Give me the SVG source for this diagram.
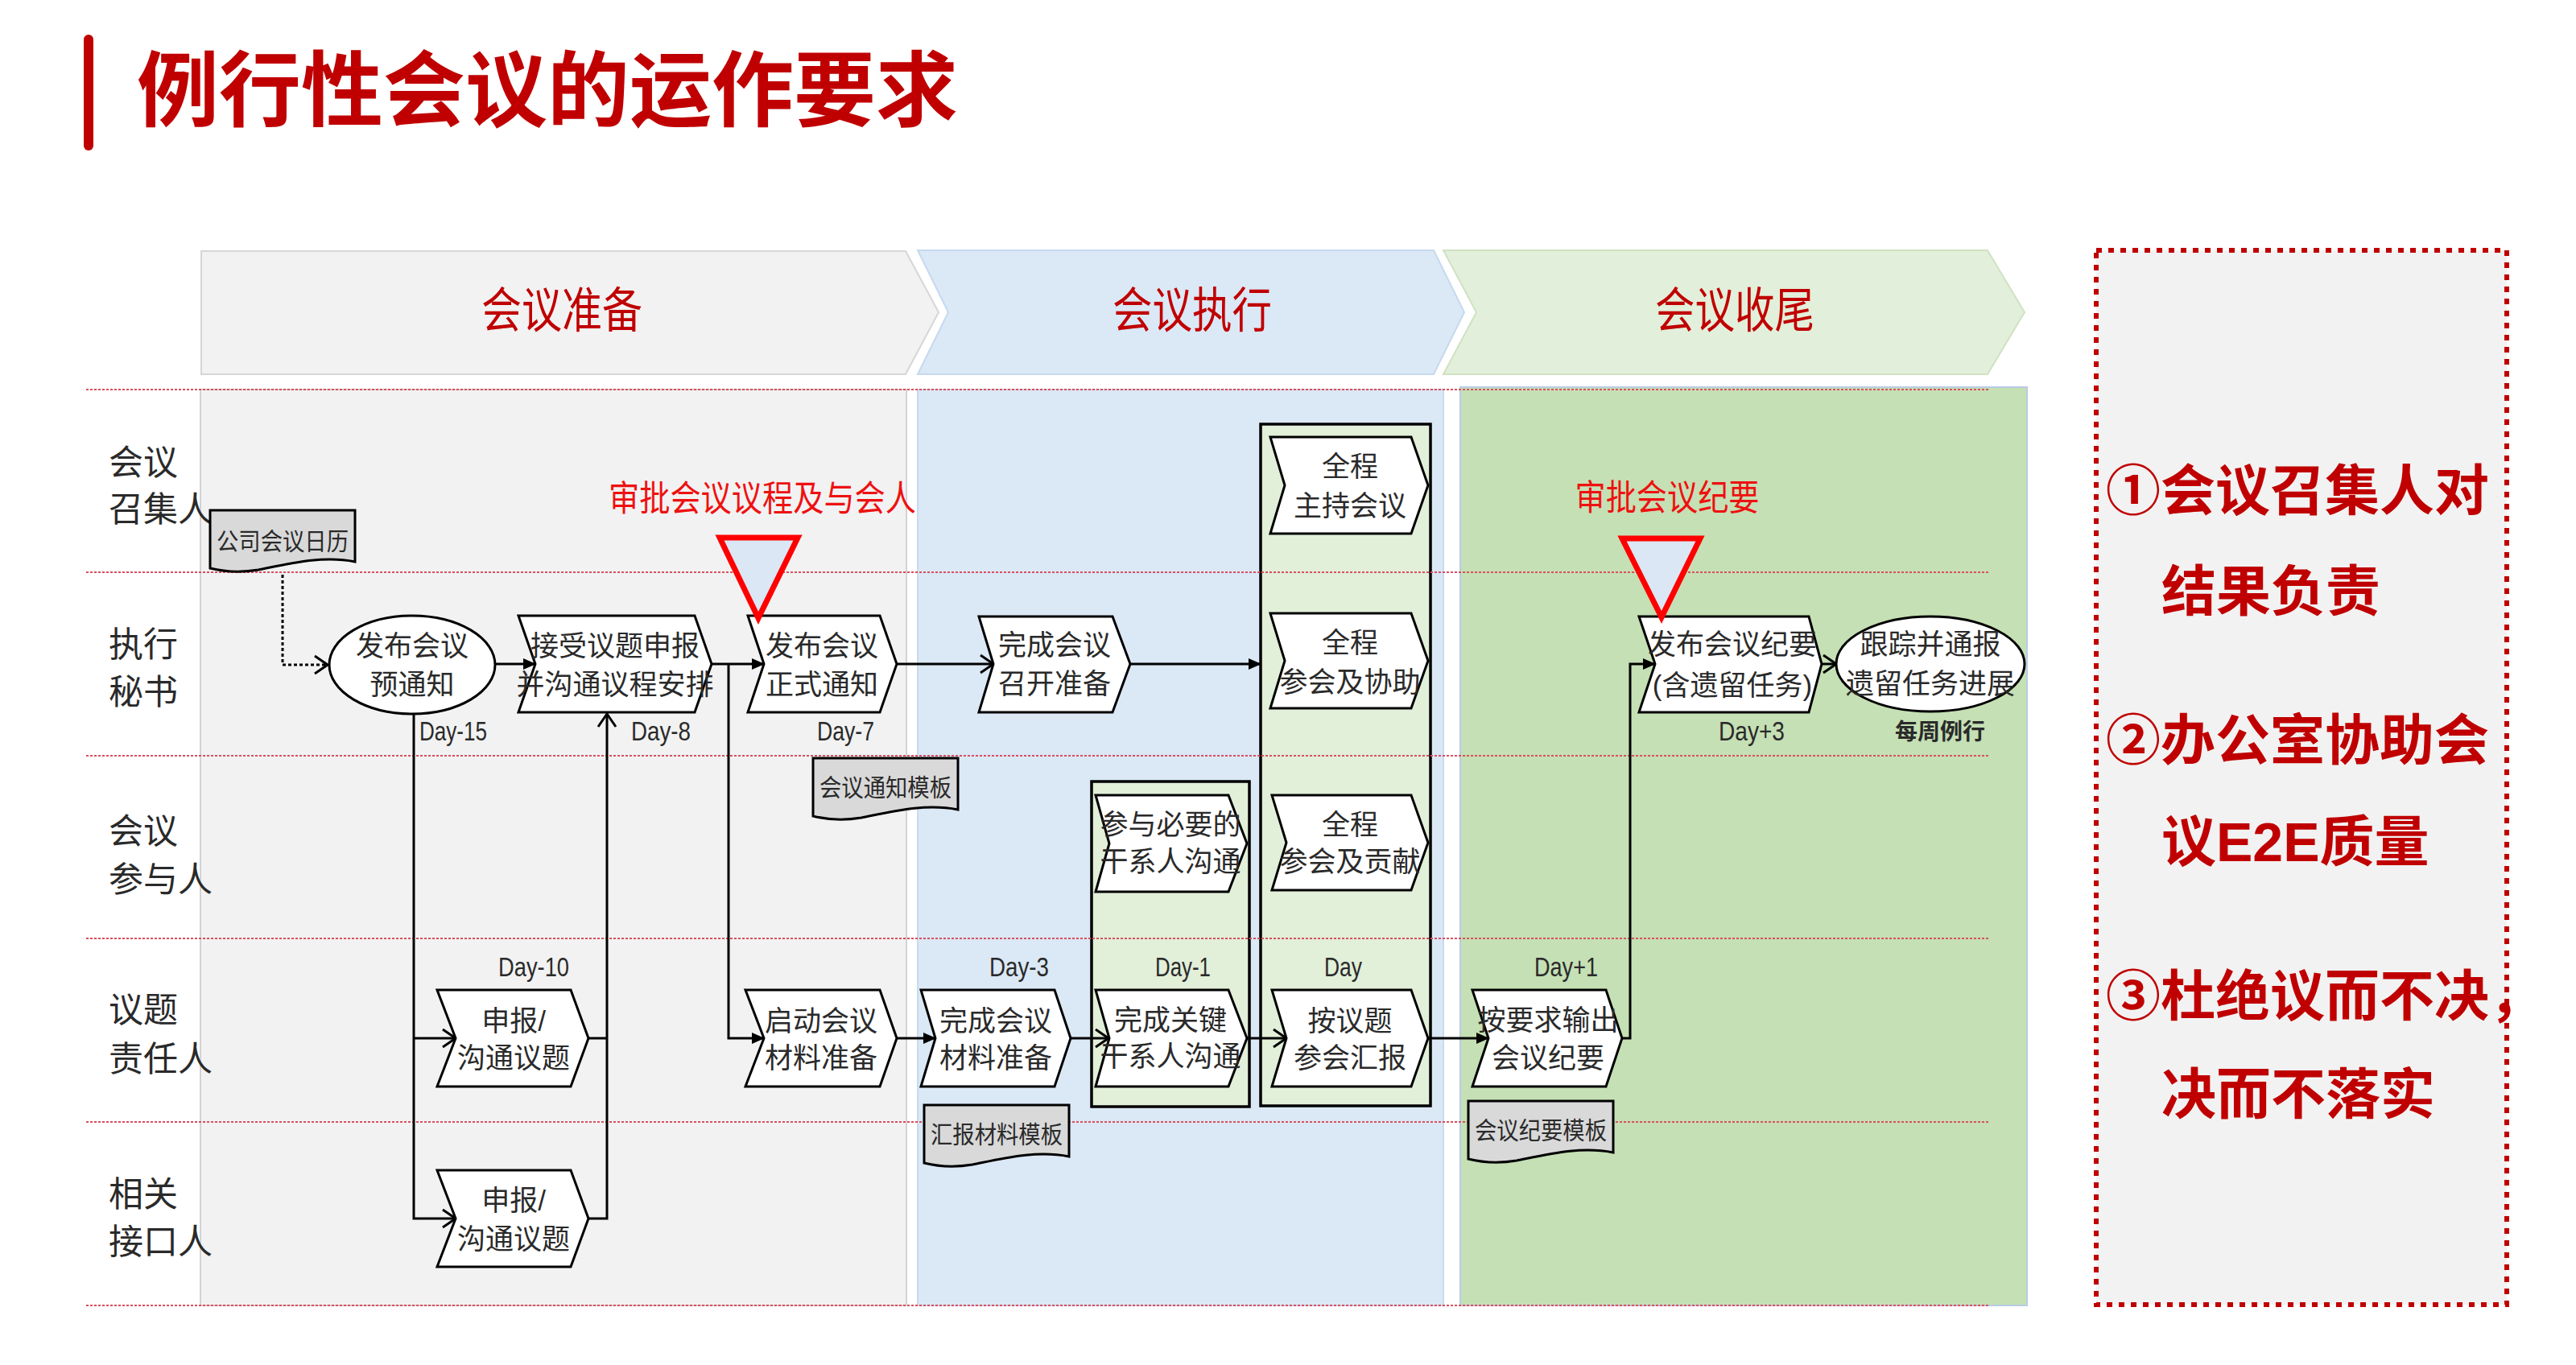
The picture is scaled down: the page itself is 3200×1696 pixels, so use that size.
<svg xmlns="http://www.w3.org/2000/svg" width="3200" height="1696" viewBox="0 0 3200 1696">
<style>
.cjk{font-family:"Liberation Sans","Noto Sans CJK SC",sans-serif}
.lane-line{stroke:#d9505f;stroke-width:2;stroke-dasharray:3 2;fill:none}
.node{fill:#fff;stroke:#000;stroke-width:3;stroke-linejoin:miter}
.doc{fill:#d9d9d9;stroke:#000;stroke-width:3}
.grp{fill:#e2efd9;stroke:#000;stroke-width:3.5}
.tri{fill:#dbe7f4;stroke:#ff0000;stroke-width:7;stroke-linejoin:miter}
.nt{font-family:"Liberation Sans","Noto Sans CJK SC",sans-serif;font-size:35px;fill:#2a2a2a;text-anchor:middle;dominant-baseline:central}
.dt{font-family:"Liberation Sans","Noto Sans CJK SC",sans-serif;font-size:30px;fill:#2a2a2a;text-anchor:middle;dominant-baseline:central}
.day{font-family:"Liberation Sans","Noto Sans CJK SC",sans-serif;font-size:34px;fill:#2a2a2a}
.lane{font-family:"Liberation Sans","Noto Sans CJK SC",sans-serif;font-size:43px;fill:#2a2a2a;dominant-baseline:central}
.ph{font-family:"Liberation Sans","Noto Sans CJK SC",sans-serif;font-size:60px;fill:#c00000;text-anchor:middle;dominant-baseline:central}
.red{font-family:"Liberation Sans","Noto Sans CJK SC",sans-serif;font-size:44px;fill:#ee1111;text-anchor:middle;dominant-baseline:central}
.big{font-family:"Liberation Sans","Noto Sans CJK SC",sans-serif;font-size:68px;font-weight:bold;fill:#c00000;dominant-baseline:central}
.conn{fill:none;stroke:#000;stroke-width:3}
</style>
<defs>
<marker id="af" viewBox="0 0 16 14" refX="15" refY="7" markerWidth="16" markerHeight="14" markerUnits="userSpaceOnUse" orient="auto"><path d="M0,0 L16,7 L0,14 Z" fill="#000"/></marker>
<marker id="ao" viewBox="0 0 20 26" refX="18" refY="13" markerWidth="20" markerHeight="26" markerUnits="userSpaceOnUse" orient="auto"><path d="M2,2 L18,13 L2,24" fill="none" stroke="#000" stroke-width="3"/></marker>
<path id="docshape" d="M0,0 H180 V64 C140,56 100,66 60,74 C36,78 16,76 0,72 Z"/>
</defs>

<rect width="3200" height="1696" fill="#ffffff"/>

<!-- title -->
<g id="title">
<rect x="104" y="43" width="12" height="144" rx="6" fill="#c00000"/>
<text x="170" y="114" class="cjk" font-size="102" font-weight="bold" fill="#c00000" dominant-baseline="central">例行性会议的运作要求</text>
</g>

<!-- phase headers -->
<g id="phase-prep">
<path d="M250,312 H1125 L1166,388 L1125,465 H250 Z" fill="#f2f2f2" stroke="#d6d6d6" stroke-width="2"/>
<text x="698" y="386" class="ph" textLength="200" lengthAdjust="spacingAndGlyphs">会议准备</text>
</g>
<g id="phase-exec">
<path d="M1140,311 H1781 L1819,388 L1781,465 H1140 L1178,388 Z" fill="#dbe8f5" stroke="#c6d9ee" stroke-width="2"/>
<text x="1481" y="386" class="ph" textLength="198" lengthAdjust="spacingAndGlyphs">会议执行</text>
</g>
<g id="phase-close">
<path d="M1793,311 H2469 L2515,388 L2469,465 H1793 L1834,388 Z" fill="#e2efda" stroke="#cfe2c2" stroke-width="2"/>
<text x="2155" y="386" class="ph" textLength="198" lengthAdjust="spacingAndGlyphs">会议收尾</text>
</g>

<!-- backgrounds -->
<g id="backgrounds">
<rect x="249" y="484" width="877" height="1138" fill="#f2f2f2" stroke="#d3d3d3" stroke-width="2"/>
<rect x="1140" y="484" width="653" height="1138" fill="#dbe8f5" stroke="#c8dbef" stroke-width="2"/>
<rect x="1814" y="481" width="704" height="1141" fill="#c5e0b4" stroke="#b8cce4" stroke-width="2"/>
</g>

<!-- group frames -->
<g id="group-day-1"><rect x="1356" y="971" width="196" height="404" class="grp"/></g>
<g id="group-day"><rect x="1566" y="527" width="211" height="847" class="grp"/></g>

<!-- lane lines -->
<g id="lane-lines">
<line x1="107" y1="484" x2="2472" y2="484" class="lane-line"/>
<line x1="107" y1="711" x2="2472" y2="711" class="lane-line"/>
<line x1="107" y1="939" x2="2472" y2="939" class="lane-line"/>
<line x1="107" y1="1166" x2="2472" y2="1166" class="lane-line"/>
<line x1="107" y1="1394" x2="2472" y2="1394" class="lane-line"/>
<line x1="107" y1="1622" x2="2472" y2="1622" class="lane-line"/>
</g>

<!-- lane labels -->
<g id="lane-labels">
<text x="135" y="575" class="lane">会议</text><text x="135" y="633" class="lane">召集人</text>
<text x="135" y="801" class="lane">执行</text><text x="135" y="860" class="lane">秘书</text>
<text x="135" y="1033" class="lane">会议</text><text x="135" y="1093" class="lane">参与人</text>
<text x="135" y="1255" class="lane">议题</text><text x="135" y="1316" class="lane">责任人</text>
<text x="135" y="1484" class="lane">相关</text><text x="135" y="1543" class="lane">接口人</text>
</g>

<!-- connectors -->
<g id="connectors">
<path d="M351,714 V826 H407" class="conn" stroke-dasharray="4 3" marker-end="url(#ao)"/>
<path d="M616,825 H665" class="conn" marker-end="url(#af)"/>
<path d="M884,825 H949" class="conn" marker-end="url(#af)"/>
<path d="M905,825 V1290 H949" class="conn" marker-end="url(#af)"/>
<path d="M514,887 V1514 H566" class="conn" marker-end="url(#ao)"/>
<path d="M514,1290 H566" class="conn" marker-end="url(#ao)"/>
<path d="M731,1514 H754 V887" class="conn" marker-end="url(#ao)"/>
<path d="M731,1290 H754" class="conn"/>
<path d="M1114,825 H1234" class="conn" marker-end="url(#ao)"/>
<path d="M1404,825 H1566" class="conn" marker-end="url(#af)"/>
<path d="M1114,1290 H1162" class="conn" marker-end="url(#af)"/>
<path d="M1330,1290 H1377" class="conn" marker-end="url(#ao)"/>
<path d="M1549,1290 H1598" class="conn" marker-end="url(#ao)"/>
<path d="M1774,1290 H1849" class="conn" marker-end="url(#af)"/>
<path d="M2015,1290 H2025 V825 H2056" class="conn" marker-end="url(#af)"/>
<path d="M2263,825 H2281" class="conn" marker-end="url(#ao)"/>
</g>

<!-- nodes -->
<g id="doc-calendar">
<use href="#docshape" transform="translate(261,634)" class="doc"/>
<text x="351" y="672" class="dt" textLength="164" lengthAdjust="spacingAndGlyphs">公司会议日历</text>
</g>
<g id="node-prenotice">
<ellipse cx="512" cy="826" rx="103" ry="61" class="node"/>
<text x="512" y="802" class="nt">发布会议</text><text x="512" y="850" class="nt">预通知</text>
</g>
<g id="node-accept">
<path d="M644,765 H863 L884,825 L863,885 H644 L665,825 Z" class="node"/>
<text x="764" y="802" class="nt">接受议题申报</text><text x="764" y="850" class="nt">并沟通议程安排</text>
</g>
<g id="node-formal">
<path d="M929,765 H1093 L1114,825 L1093,885 H929 L949,825 Z" class="node"/>
<text x="1021" y="802" class="nt">发布会议</text><text x="1021" y="850" class="nt">正式通知</text>
</g>
<g id="doc-notice-template">
<use href="#docshape" transform="translate(1010,942)" class="doc"/>
<text x="1100" y="978" class="dt" textLength="164" lengthAdjust="spacingAndGlyphs">会议通知模板</text>
</g>
<g id="node-ready">
<path d="M1216,766 H1382 L1404,825 L1382,885 H1216 L1234,825 Z" class="node"/>
<text x="1310" y="801" class="nt">完成会议</text><text x="1310" y="849" class="nt">召开准备</text>
</g>
<g id="node-host">
<path d="M1578,543 H1753 L1774,603 L1753,663 H1578 L1596,603 Z" class="node"/>
<text x="1677" y="579" class="nt">全程</text><text x="1677" y="628" class="nt">主持会议</text>
</g>
<g id="node-assist">
<path d="M1578,762 H1753 L1774,821 L1753,880 H1578 L1596,821 Z" class="node"/>
<text x="1677" y="798" class="nt">全程</text><text x="1677" y="847" class="nt">参会及协助</text>
</g>
<g id="node-contribute">
<path d="M1580,988 H1753 L1774,1047 L1753,1106 H1580 L1598,1047 Z" class="node"/>
<text x="1677" y="1024" class="nt">全程</text><text x="1677" y="1070" class="nt">参会及贡献</text>
</g>
<g id="node-stakeholder-join">
<path d="M1361,988 H1526 L1549,1048 L1526,1108 H1361 L1378,1048 Z" class="node"/>
<text x="1454" y="1024" class="nt">参与必要的</text><text x="1454" y="1070" class="nt">干系人沟通</text>
</g>
<g id="node-submit-owner">
<path d="M543,1230 H709 L731,1290 L709,1350 H543 L566,1290 Z" class="node"/>
<text x="638" y="1268" class="nt">申报/</text><text x="638" y="1314" class="nt">沟通议题</text>
</g>
<g id="node-submit-interface">
<path d="M543,1454 H709 L731,1514 L709,1574 H543 L566,1514 Z" class="node"/>
<text x="638" y="1491" class="nt">申报/</text><text x="638" y="1539" class="nt">沟通议题</text>
</g>
<g id="node-start-material">
<path d="M926,1230 H1093 L1114,1290 L1093,1350 H926 L949,1290 Z" class="node"/>
<text x="1020" y="1268" class="nt">启动会议</text><text x="1020" y="1314" class="nt">材料准备</text>
</g>
<g id="node-finish-material">
<path d="M1144,1230 H1310 L1330,1290 L1310,1350 H1144 L1162,1290 Z" class="node"/>
<text x="1237" y="1268" class="nt">完成会议</text><text x="1237" y="1314" class="nt">材料准备</text>
</g>
<g id="doc-report-template">
<use href="#docshape" transform="translate(1148,1373)" class="doc"/>
<text x="1238" y="1409" class="dt" textLength="164" lengthAdjust="spacingAndGlyphs">汇报材料模板</text>
</g>
<g id="node-key-stakeholder">
<path d="M1361,1230 H1526 L1549,1290 L1526,1350 H1361 L1378,1290 Z" class="node"/>
<text x="1454" y="1267" class="nt">完成关键</text><text x="1454" y="1312" class="nt">干系人沟通</text>
</g>
<g id="node-report">
<path d="M1580,1230 H1753 L1774,1290 L1753,1350 H1580 L1598,1290 Z" class="node"/>
<text x="1677" y="1268" class="nt">按议题</text><text x="1677" y="1314" class="nt">参会汇报</text>
</g>
<g id="node-output-minutes">
<path d="M1829,1230 H1995 L2015,1290 L1995,1350 H1829 L1849,1290 Z" class="node"/>
<text x="1923" y="1267" class="nt">按要求输出</text><text x="1923" y="1314" class="nt">会议纪要</text>
</g>
<g id="doc-minutes-template">
<use href="#docshape" transform="translate(1824,1368)" class="doc"/>
<text x="1914" y="1404" class="dt" textLength="164" lengthAdjust="spacingAndGlyphs">会议纪要模板</text>
</g>
<g id="node-publish-minutes">
<path d="M2036,766 H2247 L2263,825 L2247,885 H2036 L2056,825 Z" class="node"/>
<text x="2152" y="800" class="nt">发布会议纪要</text><text x="2152" y="851" class="nt">(含遗留任务)</text>
</g>
<g id="node-track">
<ellipse cx="2398" cy="825" rx="117" ry="59" class="node"/>
<text x="2398" y="800" class="nt">跟踪并通报</text><text x="2398" y="849" class="nt">遗留任务进展</text>
</g>

<!-- approval triangles -->
<g id="approve-agenda">
<text x="947" y="619" class="red" textLength="382" lengthAdjust="spacingAndGlyphs">审批会议议程及与会人</text>
<path d="M894,668 H991 L942,768 Z" class="tri"/>
</g>
<g id="approve-minutes">
<text x="2071" y="618" class="red" textLength="229" lengthAdjust="spacingAndGlyphs">审批会议纪要</text>
<path d="M2015,669 H2112 L2064,767 Z" class="tri"/>
</g>

<!-- day labels -->
<g id="day-labels">
<text x="521" y="920" class="day" textLength="84" lengthAdjust="spacingAndGlyphs">Day-15</text>
<text x="784" y="920" class="day" textLength="74" lengthAdjust="spacingAndGlyphs">Day-8</text>
<text x="1015" y="920" class="day" textLength="71" lengthAdjust="spacingAndGlyphs">Day-7</text>
<text x="619" y="1213" class="day" textLength="88" lengthAdjust="spacingAndGlyphs">Day-10</text>
<text x="1229" y="1213" class="day" textLength="74" lengthAdjust="spacingAndGlyphs">Day-3</text>
<text x="1435" y="1213" class="day" textLength="69" lengthAdjust="spacingAndGlyphs">Day-1</text>
<text x="1645" y="1213" class="day" textLength="47" lengthAdjust="spacingAndGlyphs">Day</text>
<text x="1906" y="1213" class="day" textLength="79" lengthAdjust="spacingAndGlyphs">Day+1</text>
<text x="2135" y="920" class="day" textLength="82" lengthAdjust="spacingAndGlyphs">Day+3</text>
<text x="2410" y="909" class="cjk" font-size="28" font-weight="bold" fill="#2a2a2a" text-anchor="middle" dominant-baseline="central">每周例行</text>
</g>

<!-- summary box -->
<g id="summary">
<rect x="2604" y="311" width="510" height="1310" fill="#f2f2f2" stroke="#c00000" stroke-width="6" stroke-dasharray="7 8"/>
<text x="2616" y="610" class="big">①会议召集人对</text>
<text x="2685" y="735" class="big">结果负责</text>
<text x="2616" y="920" class="big">②办公室协助会</text>
<text x="2685" y="1046" class="big">议E2E质量</text>
<text x="2616" y="1238" class="big">③杜绝议而不决，</text>
<text x="2685" y="1360" class="big">决而不落实</text>
</g>
</svg>
